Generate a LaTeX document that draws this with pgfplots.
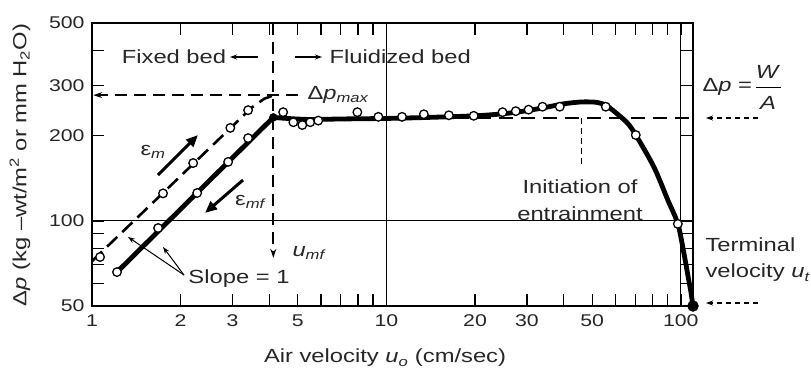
\documentclass[border=0pt]{standalone}
\usepackage{fontspec}
\setmainfont{Liberation Sans}[FakeStretch=1.25]
\usepackage{pgfplots}
\pgfplotsset{compat=1.18}
\usetikzlibrary{arrows.meta}
\begin{document}
\fontsize{19bp}{22bp}\selectfont
\begin{tikzpicture}[x=1bp,y=1bp]
\path[use as bounding box] (-92,-65) rectangle (719,306);
\begin{axis}[
  at={(0,0)}, anchor=south west,
  scale only axis, width=601bp, height=283bp,
  xmode=log, ymode=log, xmin=1, xmax=110, ymin=50, ymax=500,
  xtick={1,2,3,5,10,20,30,50,100}, xticklabels={1,2,3,5,10,20,30,50,100},
  minor xtick={4,6,7,8,9,40,60,70,80,90},
  ytick={50,100,200,300,500}, yticklabels={50,100,200,300,500},
  minor ytick={60,70,80,90,400},
  /pgf/number format/assume math mode=true,
  major tick length=12bp, minor tick length=12bp,
  every tick/.style={black, line width=1.4bp},
  axis line style={line width=2.4bp},
  tick label style={font=\fontsize{17bp}{20bp}\selectfont, text=black!85},
  xticklabel style={yshift=-2bp},
  yticklabel style={xshift=-1bp},
  clip=false,
]
% grid lines
\draw[line width=1.3bp] (axis cs:10,50) -- (axis cs:10,500);
\draw[line width=1.3bp] (axis cs:100,50) -- (axis cs:100,500);
\draw[line width=1.3bp] (axis cs:1,100) -- (axis cs:110,100);
% reference dashed lines
\draw[line width=2.4bp, dash pattern=on 14bp off 8bp] (axis cs:4.3,231) -- (axis cs:110,231);
\draw[line width=1.8bp, dash pattern=on 12bp off 7bp, -{Stealth[length=9bp,width=6bp]}] (axis cs:5,278) -- (axis cs:1.01,278);
\draw[line width=1.8bp, dash pattern=on 12bp off 7bp, -{Stealth[length=9bp,width=6bp]}] (axis cs:4.13,500) -- (axis cs:4.13,74);
\draw[line width=1.3bp, dash pattern=on 6bp off 4bp] (axis cs:46,231) -- (axis cs:46,155);
% epsilon_m dashed line
\addplot[line width=2.6bp, dash pattern=on 14bp off 7bp] coordinates {
  (1.0,72) (3.5,252) (3.85,270) (4.15,278)};
% epsilon_mf solid line
\addplot[line width=4.8bp] coordinates {(1.216,65.9) (4.13,232)};
\addplot[line width=4.8bp, smooth, tension=0.5] coordinates {
  (4.13,232) (4.6,230) (5.5,228) (7,229) (10,230) (14,232) (20,235) (25,239)
  (30,245) (35,252) (40,259) (46,263) (52,262) (56,255) (61,238) (66,221)
  (70.3,201) (81,155) (90.3,118.5) (97.7,97.5) (102.4,77) (106,63) (108,56.7) (110,50)};
% hollow markers
\addplot[only marks, mark=*, mark size=4.3bp, mark options={fill=white, draw=black, line width=1.3bp}] coordinates {
  (1.065,74.5) (1.743,125) (2.206,160) (2.95,213) (3.39,246)
  (1.216,65.9) (1.677,94.3) (2.276,125.4) (2.90,161.5) (3.39,196)
  (4.46,242) (4.83,223) (5.18,218) (5.51,223) (5.87,226) (7.97,242) (9.39,233)
  (11.3,233) (13.4,238) (16.3,236) (19.8,235) (24.8,242) (27.5,244) (30.4,247)
  (33.9,253) (38.8,253) (55.6,253) (70.3,201) (97.7,97.5)};
% filled markers
\addplot[only marks, mark=*, mark size=5.5bp, mark options={fill=black, draw=black}] coordinates {(110,50)};
\addplot[only marks, mark=*, mark size=4bp, mark options={fill=black, draw=black}] coordinates {(4.13,232)};
\end{axis}
% axis labels
\node[rotate=90, text=black!85] at (-72,141) {Δ\textit{p} (kg –wt/m\textsuperscript{2} or mm H\textsubscript{2}O)};
\node[text=black!85] at (293,-52) {Air velocity \textit{u}\textsubscript{\itshape o} (cm/sec)};
% annotations
\node[text=black!85] at (82,249) {Fixed bed};
\draw[line width=1.2bp, -{Stealth[length=7bp,width=5bp]}] (166,249) -- (138,249);
\draw[line width=1.2bp, -{Stealth[length=7bp,width=5bp]}] (203,249) -- (230,249);
\node[anchor=west, text=black!85] at (231,249) {Fluidized bed};
\node[text=black!85] at (246,211) {Δ\textit{p}\textsubscript{\itshape max}};
\node[text=black!85] at (61,154) {ε\textsubscript{\itshape m}};
\draw[line width=3bp, -{Triangle[length=12bp,width=10bp]}] (66,131) -- (106,171);
\node[text=black!85] at (158,104) {ε\textsubscript{\itshape mf}};
\draw[line width=3bp, -{Triangle[length=12bp,width=10bp]}] (151,126) -- (113,93);
\node[anchor=west, text=black!85] at (194,53) {\textit{u}\textsubscript{\itshape mf}};
\node[text=black!85] at (147,27) {Slope = 1};
\draw[line width=1bp, -{Stealth[length=7bp,width=5bp]}] (92,31) -- (36,69);
\draw[line width=1bp, -{Stealth[length=7bp,width=5bp]}] (92,31) -- (71,59);
\node[align=center, text=black!85, font=\fontsize{19bp}{27bp}\selectfont] at (488,106) {Initiation of\\entrainment};
\node[anchor=west, text=black!85] at (604,219) {Δ\textit{p} =};
\node[text=black!85] at (676,234) {\textit{W}};
\draw[line width=1bp] (664,219) -- (689,219);
\node[text=black!85] at (676,203) {\textit{A}};
\draw[line width=1.2bp, dash pattern=on 5bp off 4bp, -{Stealth[length=7bp,width=5bp]}] (666,188) -- (614,188);
\draw[line width=1.2bp, dash pattern=on 5bp off 4bp, -{Stealth[length=7bp,width=5bp]}] (666,3) -- (614,3);
\node[anchor=west, text=black!85] at (607,61) {Terminal};
\node[anchor=west, text=black!85] at (607,33) {velocity \textit{u}\textsubscript{\itshape t}};
\end{tikzpicture}
\end{document}
